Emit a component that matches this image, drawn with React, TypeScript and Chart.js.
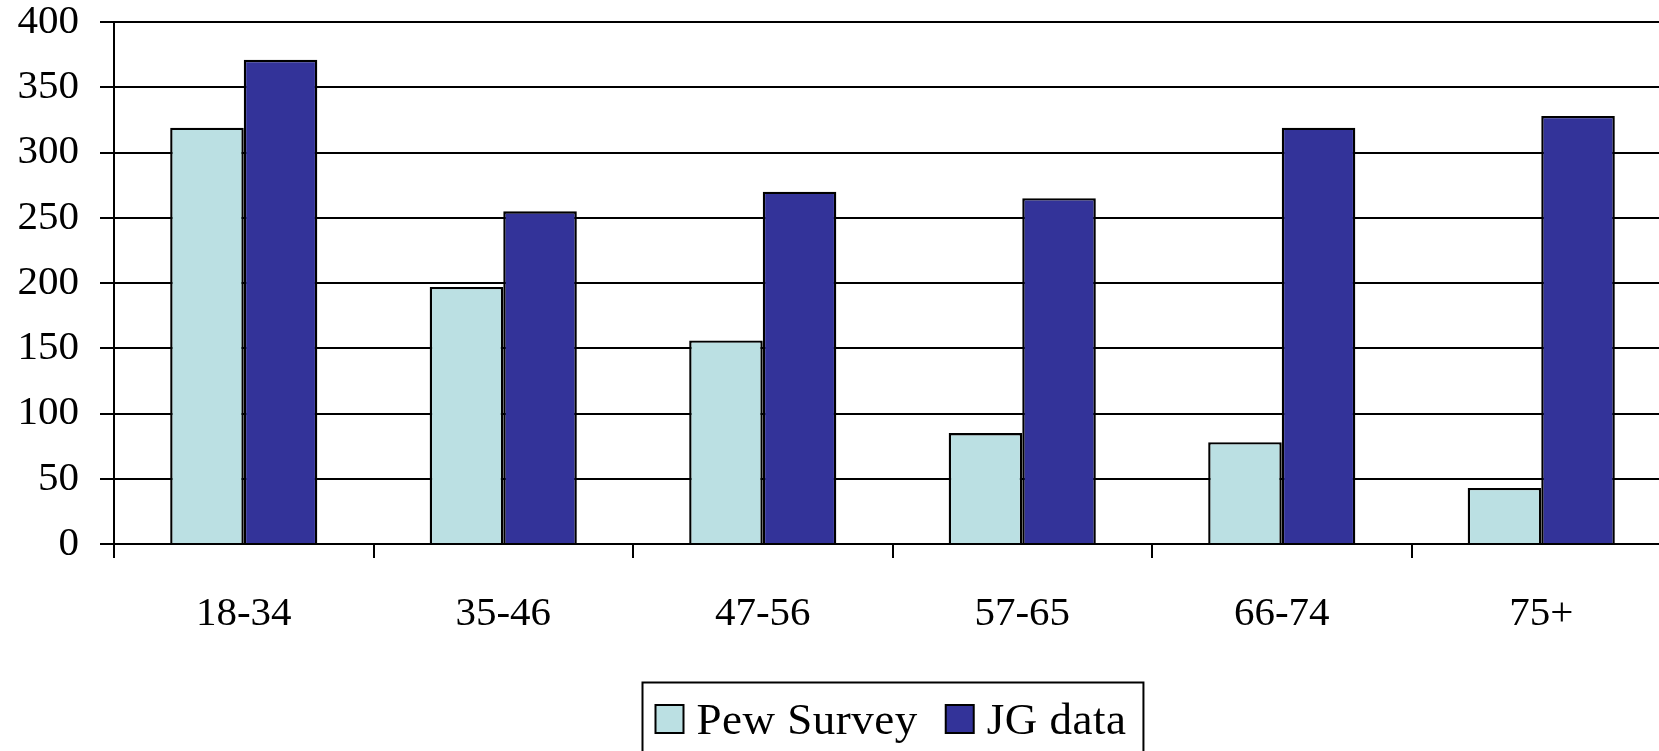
import React, { useEffect, useRef } from "react";
import { Chart, registerables } from "chart.js";

Chart.register(...registerables);

const categories = ["18-34", "35-46", "47-56", "57-65", "66-74", "75+"];
const pewSurvey = [319, 197, 156, 85, 78, 43];
const jgData = [371, 255, 270, 265, 319, 328];
const seriesLabels = ["Pew Survey", "JG data"];
const seriesColors = ["#BBE0E3", "#333399"];
const yMin = 0;
const yMax = 400;
const yStep = 50;

const FONT = "'Liberation Serif', 'Times New Roman', serif";
const FONT_SIZE = 41;
const LEGEND_FONT_SIZE = 45;

const boxLegend = {
  id: "boxLegend",
  afterDraw(chart: any) {
    const ctx = chart.ctx as CanvasRenderingContext2D;
    const ds = chart.data.datasets;
    const area = chart.chartArea;
    ctx.save();
    ctx.font = `${LEGEND_FONT_SIZE}px ${FONT}`;
    (ctx as any).letterSpacing = "0.5px";
    const box = 28,
      gapText = 13,
      gapItem = 28,
      padL = 13,
      padR = 17;
    const widths = ds.map((d: any) => ctx.measureText(d.label).width);
    const total =
      padL +
      padR +
      widths.reduce((s: number, w: number) => s + box + gapText + w, 0) +
      gapItem * (ds.length - 1);
    const center = (area.left + area.right) / 2;
    const left = Math.round(center - total / 2) + 0.5;
    const top = Math.round(area.bottom + 138) + 0.5;
    ctx.strokeStyle = "#000";
    ctx.lineWidth = 2;
    ctx.strokeRect(left, top, total, 200);
    let x = left + padL;
    const boxTop = top + 22.5;
    ds.forEach((d: any, i: number) => {
      ctx.fillStyle = d.backgroundColor;
      ctx.fillRect(x, boxTop, box, box);
      ctx.strokeRect(x, boxTop, box, box);
      x += box + gapText;
      ctx.fillStyle = "#000";
      ctx.textBaseline = "alphabetic";
      ctx.textAlign = "left";
      ctx.fillText(d.label, x, top + 51);
      x += widths[i] + gapItem;
    });
    ctx.restore();
  },
};

export default function App() {
  const ref = useRef<HTMLCanvasElement | null>(null);

  useEffect(() => {
    if (!ref.current) return;
    const chart = new Chart(ref.current, {
      type: "bar",
      data: {
        labels: categories,
        datasets: [
          {
            label: seriesLabels[0],
            data: pewSurvey,
            backgroundColor: seriesColors[0],
            borderColor: "#000",
            borderWidth: 2.4,
          },
          {
            label: seriesLabels[1],
            data: jgData,
            backgroundColor: seriesColors[1],
            borderColor: "#000",
            borderWidth: 2.4,
          },
        ],
      },
      options: {
        responsive: false,
        animation: false,
        layout: { padding: { left: 0, top: 22, right: 72, bottom: 77 } },
        datasets: {
          bar: { categoryPercentage: 0.567, barPercentage: 1.0 },
        },
        plugins: {
          legend: { display: false },
          tooltip: { enabled: false },
          title: { display: false },
        },
        scales: {
          x: {
            grid: {
              display: true,
              drawOnChartArea: false,
              drawTicks: true,
              tickLength: 14,
              color: "#000",
              lineWidth: 2,
              offset: true,
            },
            border: { display: true, color: "#000", width: 2 },
            ticks: {
              color: "#000",
              padding: 36,
              font: { family: FONT, size: FONT_SIZE, lineHeight: 1 },
              maxRotation: 0,
            },
            afterFit: (scale: any) => {
              scale.height = 130;
            },
          },
          y: {
            min: yMin,
            max: yMax,
            grid: {
              color: "#000",
              lineWidth: 2,
              tickLength: 14,
              drawTicks: true,
            },
            border: { display: true, color: "#000", width: 2 },
            ticks: {
              stepSize: yStep,
              color: "#000",
              padding: 21,
              font: { family: FONT, size: FONT_SIZE, lineHeight: 1 },
            },
            afterFit: (scale: any) => {
              scale.width = 114;
              scale.paddingTop = 10;
              scale.paddingBottom = 10;
            },
          },
        },
      },
      plugins: [boxLegend],
    });
    return () => chart.destroy();
  }, []);

  return (
    <div
      style={{
        position: "fixed",
        left: 0,
        top: 0,
        width: 1659,
        height: 751,
        overflow: "hidden",
        background: "#fff",
      }}
    >
      <canvas
        ref={ref}
        width={1743}
        height={751}
        style={{ display: "block", width: 1743, height: 751 }}
      />
    </div>
  );
}
